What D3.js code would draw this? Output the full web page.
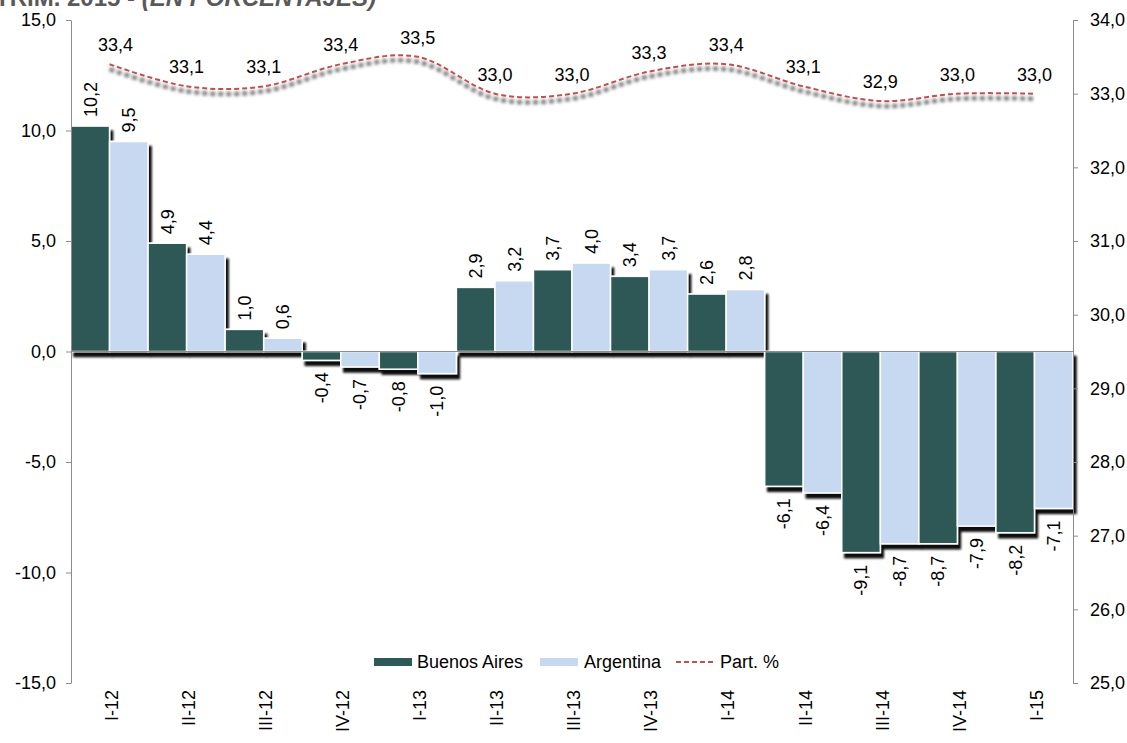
<!DOCTYPE html>
<meta charset="utf-8">
<style>
body { margin: 0; background: #fff; }
svg { font-family: "Liberation Sans", Arial, sans-serif; }
.axis path, .axis line { stroke: #8c8c8c; }
.axis text { font-size: 18px; fill: #000; font-family: "Liberation Sans", Arial, sans-serif; }
.lbl { font-size: 18px; fill: #000; }
</style>
<body>
<script src="https://d3js.org/d3.v7.min.js"></script>
<script>

var categories = ["I-12", "II-12", "III-12", "IV-12", "I-13", "II-13", "III-13", "IV-13", "I-14", "II-14", "III-14", "IV-14", "I-15"];
var buenosAires = [10.2, 4.9, 1.0, -0.4, -0.8, 2.9, 3.7, 3.4, 2.6, -6.1, -9.1, -8.7, -8.2];
var argentina = [9.5, 4.4, 0.6, -0.7, -1.0, 3.2, 4.0, 3.7, 2.8, -6.4, -8.7, -7.9, -7.1];
var participacion = [33.4, 33.1, 33.1, 33.4, 33.5, 33.0, 33.0, 33.3, 33.4, 33.1, 32.9, 33.0, 33.0];
var leftTicks = [-15, -10, -5, 0, 5, 10, 15];
var rightTicks = [25, 26, 27, 28, 29, 30, 31, 32, 33, 34];
var series = ["Buenos Aires", "Argentina"];

var width = 1127, height = 743;
var margin = {top: 20, right: 54, bottom: 60, left: 71};

var loc = d3.formatLocale({decimal: ",", thousands: ".", grouping: [3], currency: ["$", ""], minus: "-"});
var fmt = loc.format(".1f");

var svg = d3.select("body").append("svg")
    .attr("width", width)
    .attr("height", height);

var defs = svg.append("defs");
var barShadow = defs.append("filter").attr("id", "barShadow")
    .attr("x", "-20%").attr("y", "-20%").attr("width", "150%").attr("height", "150%");
barShadow.append("feDropShadow")
    .attr("dx", 3).attr("dy", 5).attr("stdDeviation", 1.2)
    .attr("flood-color", "#000").attr("flood-opacity", 0.95);

var lineBlur = defs.append("filter").attr("id", "lineBlur")
    .attr("x", "-5%").attr("y", "-50%").attr("width", "110%").attr("height", "200%");
lineBlur.append("feGaussianBlur").attr("stdDeviation", 1.5);

// title, cut off by the top edge
svg.append("text")
    .attr("x", -5).attr("y", 6)
    .style("font-size", "24px").style("font-weight", "bold").style("fill", "#595959")
    .text("TRIM. 2015 - ")
  .append("tspan")
    .style("font-style", "italic")
    .text("(EN PORCENTAJES)");

var x = d3.scaleBand()
    .domain(categories)
    .range([margin.left, width - margin.right])
    .padding(0);

var xs = d3.scaleBand()
    .domain(series)
    .range([0, x.bandwidth()])
    .padding(0);

var y = d3.scaleLinear()
    .domain([-15, 15])
    .range([height - margin.bottom, margin.top]);

var y2 = d3.scaleLinear()
    .domain([25, 34])
    .range([height - margin.bottom, margin.top]);

var colors = {"Buenos Aires": "#2d5957", "Argentina": "#c6d9f1"};

// bars
var rows = categories.map(function(c, i) {
  return [{cat: c, s: "Buenos Aires", v: buenosAires[i]}, {cat: c, s: "Argentina", v: argentina[i]}];
});

var bars = svg.append("g").attr("filter", "url(#barShadow)");
rows.forEach(function(r) {
  bars.selectAll(null)
    .data(r)
    .enter().append("rect")
      .attr("x", function(d) { return x(d.cat) + xs(d.s); })
      .attr("width", xs.bandwidth())
      .attr("y", function(d) { return y(Math.max(0, d.v)); })
      .attr("height", function(d) { return Math.abs(y(d.v) - y(0)); })
      .attr("fill", function(d) { return colors[d.s]; })
      .attr("stroke", "#fff")
      .attr("stroke-width", 1.5);
});

// zero line
svg.append("line")
    .attr("x1", margin.left).attr("x2", width - margin.right)
    .attr("y1", y(0)).attr("y2", y(0))
    .attr("stroke", "#8c8c8c");

// bar value labels
var flat = [].concat.apply([], rows);
svg.append("g").selectAll("text")
  .data(flat)
  .enter().append("text")
    .attr("class", "lbl")
    .attr("text-anchor", function(d) { return d.v >= 0 ? "start" : "end"; })
    .attr("transform", function(d) {
      var cx = x(d.cat) + xs(d.s) + xs.bandwidth() / 2;
      var cy = d.v >= 0 ? y(d.v) - 9 : y(d.v) + 12;
      return "translate(" + cx + "," + cy + ") rotate(-90)";
    })
    .attr("dy", "0.35em")
    .text(function(d) { return fmt(d.v); });

// line
var pts = categories.map(function(c, i) { return [x(c) + x.bandwidth() / 2, y2(participacion[i])]; });
var line = d3.line().curve(d3.curveCardinal.tension(0));

svg.append("path")
    .attr("d", line(pts))
    .attr("transform", "translate(0,5)")
    .attr("fill", "none")
    .attr("stroke", "#808080")
    .attr("stroke-width", 4.5)
    .attr("stroke-dasharray", "5,3")
    .attr("filter", "url(#lineBlur)");

svg.append("path")
    .attr("d", line(pts))
    .attr("fill", "none")
    .attr("stroke", "#c0504d")
    .attr("stroke-width", 2)
    .attr("stroke-dasharray", "5,3");

svg.append("g").selectAll("text")
  .data(participacion)
  .enter().append("text")
    .attr("class", "lbl")
    .attr("text-anchor", "middle")
    .attr("x", function(d, i) { return x(categories[i]) + x.bandwidth() / 2 + (i === 0 ? 6 : 0); })
    .attr("y", function(d) { return y2(d) - 13; })
    .text(function(d) { return fmt(d); });

// axes
svg.append("g")
    .attr("class", "axis")
    .attr("transform", "translate(" + margin.left + ",0)")
    .call(d3.axisLeft(y).tickValues(leftTicks).tickFormat(fmt).tickSize(5).tickSizeOuter(0).tickPadding(10));

svg.append("g")
    .attr("class", "axis")
    .attr("transform", "translate(" + (width - margin.right) + ",0)")
    .call(d3.axisRight(y2).tickValues(rightTicks).tickFormat(fmt).tickSize(5).tickSizeOuter(0).tickPadding(12));

// category labels
svg.append("g").selectAll("text")
  .data(categories)
  .enter().append("text")
    .attr("class", "lbl")
    .attr("text-anchor", "end")
    .attr("transform", function(d) { return "translate(" + (x(d) + x.bandwidth() / 2 + 2) + "," + (height - margin.bottom + 7) + ") rotate(-90)"; })
    .attr("dy", "0.35em")
    .text(function(d) { return d; });

// legend
var legend = svg.append("g").attr("transform", "translate(374,662)");
legend.append("rect").attr("x", 0).attr("y", -4).attr("width", 38).attr("height", 8).attr("fill", colors["Buenos Aires"]);
legend.append("text").attr("class", "lbl").attr("x", 43).attr("dy", "0.35em").text("Buenos Aires");
legend.append("rect").attr("x", 166).attr("y", -4).attr("width", 38).attr("height", 8).attr("fill", colors["Argentina"]);
legend.append("text").attr("class", "lbl").attr("x", 210).attr("dy", "0.35em").text("Argentina");
legend.append("line").attr("x1", 302).attr("x2", 342).attr("y1", 0).attr("y2", 0)
    .attr("stroke", "#c0504d").attr("stroke-width", 2).attr("stroke-dasharray", "5,3");
legend.append("text").attr("class", "lbl").attr("x", 346).attr("dy", "0.35em").text("Part. %");

</script>
